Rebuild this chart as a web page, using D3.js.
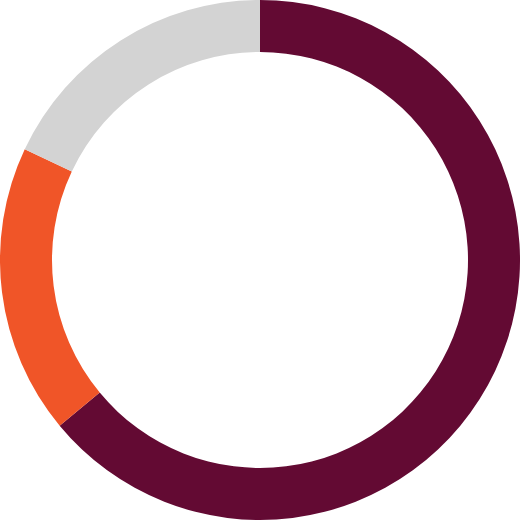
<!DOCTYPE html>
<html>
<head>
<meta charset="utf-8">
<script src="https://cdn.jsdelivr.net/npm/d3@7"></script>
<style>
  body { margin: 0; background: #fff; }
</style>
</head>
<body>
<div id="chart-area"></div>
<script>
var categories = ["A", "B", "C"];
var values = [64, 18, 18];
var colors = ["#630a33", "#f05528", "#d3d3d3"];

var width = 520;
var height = 520;
var outer = 260;
var inner = 208;

var svg = d3.select("#chart-area").append("svg")
  .attr("width", width)
  .attr("height", height);

var g = svg.append("g")
  .attr("transform", "translate(" + width / 2 + "," + height / 2 + ")");

var color = d3.scaleOrdinal().domain(categories).range(colors);

var pie = d3.pie().sort(null).value(function(d, i) { return values[i]; });
var arc = d3.arc().innerRadius(inner).outerRadius(outer);

g.selectAll("path")
  .data(pie(categories))
  .enter().append("path")
  .attr("d", arc)
  .attr("fill", function(d) { return color(d.data); });
</script>
</body>
</html>
